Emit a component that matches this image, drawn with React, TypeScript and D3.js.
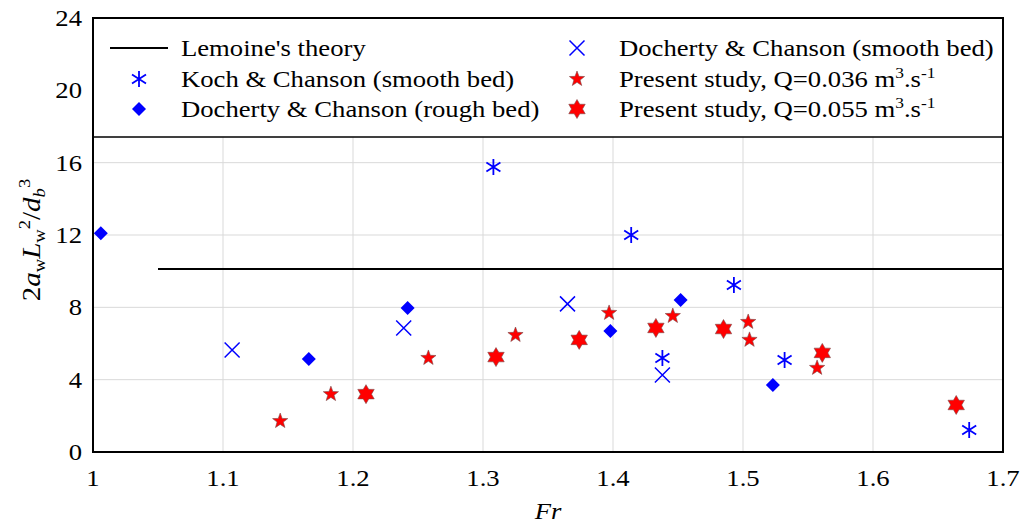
import React from 'react'
import * as d3 from 'd3'

// Fr, value pairs
const kochSmooth: [number, number][] = [
  [1.308, 15.76], [1.414, 12.0], [1.493, 9.24], [1.438, 5.2], [1.532, 5.09], [1.674, 1.22],
]
const dochertyRough: [number, number][] = [
  [1.006, 12.1], [1.166, 5.14], [1.242, 7.96], [1.398, 6.69], [1.452, 8.4], [1.523, 3.7],
]
const dochertySmooth: [number, number][] = [
  [1.107, 5.64], [1.239, 6.86], [1.365, 8.19], [1.438, 4.26],
]
const present036: [number, number][] = [
  [1.144, 1.71], [1.183, 3.2], [1.258, 5.2], [1.325, 6.47], [1.397, 7.69],
  [1.446, 7.52], [1.504, 7.19], [1.505, 6.2], [1.557, 4.65],
]
const present055: [number, number][] = [
  [1.21, 3.2], [1.31, 5.25], [1.374, 6.2], [1.433, 6.86], [1.485, 6.8], [1.561, 5.48], [1.664, 2.6],
]
const lemoine: [number, number][] = [[1.05, 10.12], [1.7, 10.12]]

const xTicks = [1, 1.1, 1.2, 1.3, 1.4, 1.5, 1.6, 1.7]
const yTicks = [0, 4, 8, 12, 16, 20, 24]

const W = 1022
const H = 524
const left = 93
const right = 1003
const top = 18
const bottom = 452

const font = '"Liberation Serif", "Times New Roman", serif'
const fs = 23
const sx = 1.16 // text in the figure is a bit wider than normal

const x = d3.scaleLinear().domain([1, 1.7]).range([left, right])
const y = d3.scaleLinear().domain([0, 24]).range([bottom, top])

function starPath(n: number, R: number, r: number) {
  const pts: [number, number][] = []
  for (let i = 0; i < n * 2; i++) {
    const a = (Math.PI * i) / n - Math.PI / 2
    const rad = i % 2 === 0 ? R : r
    pts.push([Math.cos(a) * rad, Math.sin(a) * rad])
  }
  return 'M' + pts.map(p => p.join(',')).join('L') + 'Z'
}
const star5 = starPath(5, 8, 3.3)
const star6 = starPath(6, 9.5, 5.5)
const diamond = 'M0,-7L7,0L0,7L-7,0Z'
const cross = 'M-7.5,-7.5L7.5,7.5M-7.5,7.5L7.5,-7.5'
const asterisk = 'M0,-8L0,8M-7,-4.5L7,4.5M-7,4.5L7,-4.5'

type Kind = 'ast' | 'dia' | 'x' | 's5' | 's6'
const Marker: React.FC<{ kind: Kind; cx: number; cy: number }> = ({ kind, cx, cy }) => {
  const t = `translate(${cx},${cy})`
  if (kind === 'ast') return <path d={asterisk} transform={t} stroke="#0000ff" strokeWidth={1.8} fill="none" />
  if (kind === 'x') return <path d={cross} transform={t} stroke="#0000ff" strokeWidth={1.5} fill="none" />
  if (kind === 'dia') return <path d={diamond} transform={t} fill="#0000ff" />
  if (kind === 's5') return <path d={star5} transform={t} fill="#ff0000" stroke="#7a4a4a" strokeWidth={0.6} />
  return <path d={star6} transform={t} fill="#ff0000" stroke="#7a4a4a" strokeWidth={0.6} />
}

const Txt: React.FC<{ x: number; y: number; anchor?: string; children: React.ReactNode; size?: number }> = ({ x: tx, y: ty, anchor, children, size }) => (
  <text transform={`translate(${tx},${ty}) scale(${sx},1)`} textAnchor={anchor || 'start'} fontFamily={font} fontSize={size || fs} fill="#000">
    {children}
  </text>
)

const App: React.FC = () => {
  const line = d3.line<[number, number]>().x(d => x(d[0])).y(d => y(d[1]))
  const series: [Kind, [number, number][]][] = [
    ['dia', dochertyRough],
    ['x', dochertySmooth],
    ['s5', present036],
    ['s6', present055],
    ['ast', kochSmooth],
  ]
  const legTop = top
  const legBottom = 137
  const rows = [48, 79, 109]
  const col1Mark = 139
  const col1Text = 181
  const col2Mark = 577
  const col2Text = 619
  return (
    <svg width={W} height={H} style={{ position: 'absolute', left: 0, top: 0, background: '#fff' }}>
      {/* grid */}
      {xTicks.slice(1, -1).map(t => (
        <line key={'gx' + t} x1={x(t)} x2={x(t)} y1={top} y2={bottom} stroke="#d9d9d9" strokeWidth={1} />
      ))}
      {yTicks.slice(1, -1).map(t => (
        <line key={'gy' + t} x1={left} x2={right} y1={y(t)} y2={y(t)} stroke="#d9d9d9" strokeWidth={1} />
      ))}
      <path d={line(lemoine) || ''} stroke="#000" strokeWidth={2} fill="none" />
      {series.map(([k, data]) =>
        data.map((d, i) => <Marker key={k + i} kind={k} cx={x(d[0])} cy={y(d[1])} />),
      )}
      {/* legend */}
      <rect x={left} y={legTop} width={right - left} height={legBottom - legTop} fill="#fff" stroke="#000" strokeWidth={1.5} />
      <line x1={110} x2={168} y1={rows[0]} y2={rows[0]} stroke="#000" strokeWidth={2} />
      <Txt x={col1Text} y={rows[0] + 8}>Lemoine's theory</Txt>
      <Marker kind="ast" cx={col1Mark} cy={rows[1]} />
      <Txt x={col1Text} y={rows[1] + 8}>Koch &amp; Chanson (smooth bed)</Txt>
      <Marker kind="dia" cx={col1Mark} cy={rows[2]} />
      <Txt x={col1Text} y={rows[2] + 8}>Docherty &amp; Chanson (rough bed)</Txt>
      <Marker kind="x" cx={col2Mark} cy={rows[0]} />
      <Txt x={col2Text} y={rows[0] + 8}>Docherty &amp; Chanson (smooth bed)</Txt>
      <Marker kind="s5" cx={col2Mark} cy={rows[1]} />
      <Txt x={col2Text} y={rows[1] + 8}>
        Present study, Q=0.036 m<tspan dy={-9} fontSize={15}>3</tspan>
        <tspan dy={9}>.s</tspan>
        <tspan dy={-9} fontSize={15}>-1</tspan>
      </Txt>
      <Marker kind="s6" cx={col2Mark} cy={rows[2]} />
      <Txt x={col2Text} y={rows[2] + 8}>
        Present study, Q=0.055 m<tspan dy={-9} fontSize={15}>3</tspan>
        <tspan dy={9}>.s</tspan>
        <tspan dy={-9} fontSize={15}>-1</tspan>
      </Txt>
      {/* frame */}
      <rect x={left} y={top} width={right - left} height={bottom - top} fill="none" stroke="#000" strokeWidth={2} />
      {/* tick labels */}
      {yTicks.map(t => (
        <Txt key={'yl' + t} x={82} y={y(t) + 8} anchor="end">{t}</Txt>
      ))}
      {xTicks.map(t => (
        <Txt key={'xl' + t} x={x(t)} y={486} anchor="middle">{d3.format('~g')(t)}</Txt>
      ))}
      {/* axis titles */}
      <Txt x={548} y={519} anchor="middle"><tspan fontStyle="italic">Fr</tspan></Txt>
      <text transform={`translate(40,240) rotate(-90) scale(${sx},1)`} textAnchor="middle" fontFamily={font} fontSize={25} fill="#000">
        2<tspan fontStyle="italic">a</tspan>
        <tspan dy={5} fontSize={16}>w</tspan>
        <tspan dy={-5} fontStyle="italic">L</tspan>
        <tspan dy={5} fontSize={16}>w</tspan>
        <tspan dy={-15} fontSize={16}>2</tspan>
        <tspan dy={10}>/</tspan>
        <tspan fontStyle="italic">d</tspan>
        <tspan dy={5} fontSize={16} fontStyle="italic">b</tspan>
        <tspan dy={-15} fontSize={16}>3</tspan>
      </text>
    </svg>
  )
}

export default App
